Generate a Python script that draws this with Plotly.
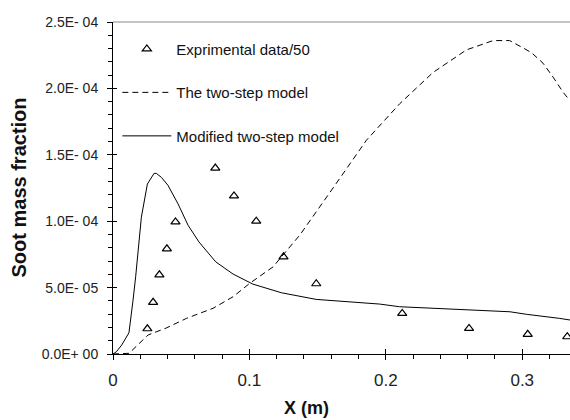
import plotly.graph_objects as go

# Experimental data (/50)
exp_x = [0.0252, 0.0294, 0.0340, 0.0395, 0.0458, 0.0750, 0.0887, 0.1050, 0.1250, 0.1490,
         0.2120, 0.2610, 0.3040, 0.3330]
exp_y = [1.90e-5, 3.89e-5, 5.96e-5, 7.92e-5, 9.95e-5, 1.40e-4, 1.19e-4, 1.00e-4, 7.32e-5, 5.29e-5,
         3.06e-5, 1.93e-5, 1.48e-5, 1.30e-5]

# The two-step model (dashed)
two_x = [0.0, 0.0117, 0.0257, 0.0391, 0.0538, 0.0733, 0.0880, 0.1002, 0.1173, 0.1369,
         0.1613, 0.1858, 0.2102, 0.2346, 0.2591, 0.2786, 0.2908, 0.3067, 0.3152, 0.3226,
         0.3300, 0.3348]
two_y = [0.0, 0.05e-5, 1.43e-5, 1.96e-5, 2.68e-5, 3.44e-5, 4.31e-5, 5.32e-5, 6.56e-5, 8.95e-5,
         1.25e-4, 1.61e-4, 1.885e-4, 2.12e-4, 2.29e-4, 2.36e-4, 2.36e-4, 2.27e-4, 2.19e-4, 2.085e-4,
         1.97e-4, 1.91e-4]

# Modified two-step model (solid)
mod_x = [0.0, 0.0025, 0.0064, 0.0117, 0.0147, 0.0166, 0.0208, 0.0252, 0.0301, 0.0318,
         0.0355, 0.0403, 0.0477, 0.0550, 0.0630, 0.0753, 0.0880, 0.1026, 0.1235, 0.1490,
         0.1955, 0.2100, 0.2910, 0.3030, 0.3275, 0.3350]
mod_y = [0.0, 1.7e-6, 6.8e-6, 1.6e-5, 4.06e-5, 5.81e-5, 1.03e-4, 1.28e-4, 1.36e-4, 1.36e-4,
         1.33e-4, 1.27e-4, 1.13e-4, 9.70e-5, 8.44e-5, 6.94e-5, 6.02e-5, 5.26e-5, 4.61e-5, 4.11e-5,
         3.76e-5, 3.56e-5, 3.18e-5, 2.99e-5, 2.68e-5, 2.56e-5]

y_tickvals = [0, 5e-5, 1e-4, 1.5e-4, 2e-4, 2.5e-4]
y_ticktext = ["0.0E+ 00", "5.0E- 05", "1.0E- 04", "1.5E- 04", "2.0E- 04", "2.5E- 04"]
x_tickvals = [0, 0.1, 0.2, 0.3]
x_ticktext = ["0", "0.1", "0.2", "0.3"]

FONT = "Liberation Sans, Arial, sans-serif"

fig = go.Figure()
fig.add_trace(go.Scatter(x=exp_x, y=exp_y, mode="markers", name="Exprimental data/50",
                         legendgroup="a",
                         marker=dict(symbol="triangle-up-open", size=8, color="black",
                                     line=dict(width=1.2, color="black"))))
fig.add_trace(go.Scatter(x=two_x, y=two_y, mode="lines", name="The two-step model",
                         legendgroup="b",
                         line=dict(color="black", width=1, dash="6px,4px")))
fig.add_trace(go.Scatter(x=mod_x, y=mod_y, mode="lines", name="Modified two-step model",
                         legendgroup="c",
                         line=dict(color="black", width=1)))

# invisible trace for inside ticks on overlay axes
fig.add_trace(go.Scatter(x=[None], y=[None], xaxis="x2", yaxis="y2", showlegend=False))

XR = [0, 0.335]
YR = [0, 2.5e-4]

fig.update_layout(
    width=570, height=420,
    margin=dict(l=113, r=0, t=22, b=66, autoexpand=False),
    paper_bgcolor="white", plot_bgcolor="white",
    font=dict(family=FONT, size=13, color="#222"),
    showlegend=True,
    legend=dict(x=0.0095, y=0.968, xanchor="left", yanchor="top",
                bgcolor="rgba(0,0,0,0)", font=dict(size=15, color="#111"),
                tracegroupgap=21, itemwidth=49),
    xaxis=dict(range=XR, tickvals=x_tickvals, ticktext=x_ticktext, automargin=False,
               showgrid=False, zeroline=False, showline=True, linecolor="black", linewidth=1,
               ticks="outside", ticklen=5, tickcolor="black", ticklabelstandoff=6,
               minor=dict(dtick=0.02, ticks="outside", ticklen=4, tickcolor="black"),
               tickfont=dict(size=17, color="#222")),
    yaxis=dict(range=YR, tickvals=y_tickvals, ticktext=y_ticktext, automargin=False,
               showgrid=False, zeroline=False, showline=True, linecolor="black", linewidth=1,
               ticks="outside", ticklen=5, tickcolor="black", ticklabelstandoff=6,
               minor=dict(dtick=1e-5, ticks="outside", ticklen=4, tickcolor="black"),
               tickfont=dict(size=14, color="#222")),
    xaxis2=dict(range=XR, overlaying="x", tickvals=x_tickvals, showticklabels=False,
                ticks="inside", ticklen=5, tickcolor="black", showgrid=False, zeroline=False,
                showline=False, side="bottom", automargin=False),
    yaxis2=dict(range=YR, overlaying="y", tickvals=y_tickvals, showticklabels=False,
                ticks="inside", ticklen=4, tickcolor="black", showgrid=False, zeroline=False,
                showline=False, side="left", automargin=False),
    shapes=[dict(type="line", xref="paper", yref="paper", x0=0, x1=1, y0=1, y1=1,
                 line=dict(color="#888", width=1), layer="above")],
    annotations=[
        dict(text="<b>X (m)</b>", xref="paper", yref="paper", x=0.4245, y=-0.1627,
             xanchor="center", yanchor="middle", showarrow=False,
             font=dict(size=18, color="#111")),
        dict(text="<b>Soot mass fraction</b>", xref="paper", yref="paper", x=-0.2057, y=0.5015,
             xanchor="center", yanchor="middle", showarrow=False, textangle=-90,
             font=dict(size=20, color="#111")),
    ],
)

fig.write_html("out.html", config={"displayModeBar": False},
               post_script="document.body.style.margin='0';document.body.style.overflow='hidden';")
